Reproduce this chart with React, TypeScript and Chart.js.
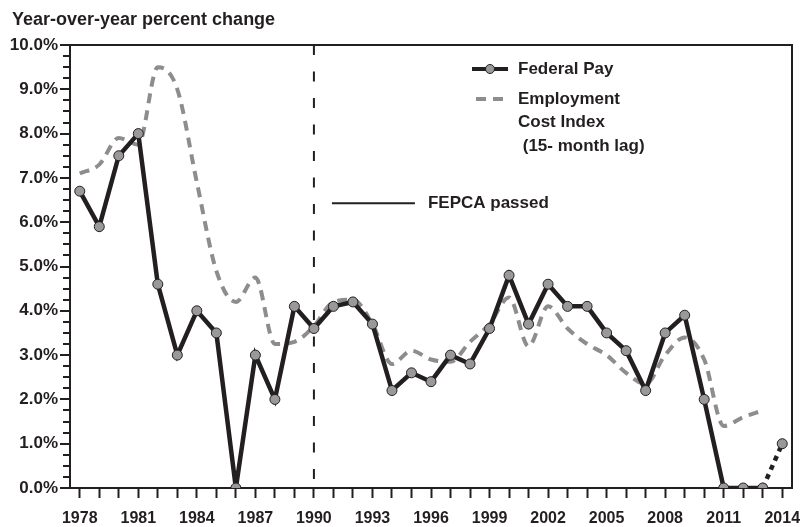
import React, { useEffect, useRef } from 'react';
import { Chart, registerables } from 'chart.js';

Chart.register(...registerables);

const years = [
  '1978', '1979', '1980', '1981', '1982', '1983', '1984', '1985', '1986', '1987',
  '1988', '1989', '1990', '1991', '1992', '1993', '1994', '1995', '1996', '1997',
  '1998', '1999', '2000', '2001', '2002', '2003', '2004', '2005', '2006', '2007',
  '2008', '2009', '2010', '2011', '2012', '2013', '2014',
];

const federalPay = [
  6.7, 5.9, 7.5, 8.0, 4.6, 3.0, 4.0, 3.5, 0.0, 3.0,
  2.0, 4.1, 3.6, 4.1, 4.2, 3.7, 2.2, 2.6, 2.4, 3.0,
  2.8, 3.6, 4.8, 3.7, 4.6, 4.1, 4.1, 3.5, 3.1, 2.2,
  3.5, 3.9, 2.0, 0.0, 0.0, 0.0, 1.0,
];

const employmentCostIndex = [
  7.1, 7.3, 7.9, 7.75, 9.5, 9.0, 6.9, 4.9, 4.2, 4.75,
  3.25, 3.3, 3.65, 4.2, 4.25, 3.7, 2.8, 3.1, 2.9, 2.85,
  3.3, 3.7, 4.3, 3.2, 4.1, 3.6, 3.25, 3.0, 2.6, 2.35,
  3.0, 3.4, 2.9, 1.4, 1.6, 1.75, null,
];

const yMin = 0;
const yMax = 10;
const yStep = 0.25;
const fepcaYear = '1990';
const projectedFromYear = '2013';

const titleText = 'Year-over-year percent change';
const payLabel = 'Federal Pay';
const eciLabelLines = ['Employment', 'Cost Index', ' (15- month lag)'];
const fepcaLabel = 'FEPCA passed';

const FONT = "'Liberation Sans', Arial, sans-serif";
const INK = '#231f20';
const PAY_FILL = '#999999';
const ECI_COLOR = '#8d8d8d';

const overlayPlugin = {
  id: 'overlay',
  beforeDatasetsDraw(chart: any) {
    const { ctx, chartArea, scales } = chart;
    const x = scales.x;
    const y = scales.y;
    const xi = x.getPixelForValue(years.indexOf(fepcaYear));
    ctx.save();
    ctx.strokeStyle = INK;
    ctx.lineWidth = 2;
    ctx.setLineDash([10, 16.5]);
    ctx.beginPath();
    ctx.moveTo(xi, chartArea.top);
    ctx.lineTo(xi, chartArea.bottom);
    ctx.stroke();
    ctx.setLineDash([]);
    // y-axis tick marks (major longer than minor)
    ctx.lineWidth = 2;
    ctx.beginPath();
    for (let v = yMin; v <= yMax + 1e-9; v += yStep) {
      const py = Math.round(y.getPixelForValue(v));
      const major = Math.abs(v - Math.round(v)) < 1e-9;
      ctx.moveTo(chartArea.left, py);
      ctx.lineTo(chartArea.left - (major ? 10 : 7), py);
    }
    ctx.stroke();
    ctx.restore();
  },
  afterDraw(chart: any) {
    const { ctx, chartArea, scales } = chart;
    const x = scales.x;
    const y = scales.y;
    ctx.save();
    // box top and right
    ctx.strokeStyle = INK;
    ctx.lineWidth = 2;
    ctx.beginPath();
    ctx.moveTo(chartArea.left, chartArea.top);
    ctx.lineTo(chartArea.right, chartArea.top);
    ctx.lineTo(chartArea.right, chartArea.bottom);
    ctx.stroke();

    // title
    ctx.fillStyle = INK;
    ctx.font = `bold 18px ${FONT}`;
    ctx.textAlign = 'left';
    ctx.textBaseline = 'middle';
    ctx.fillText(titleText, 12, 20);

    // FEPCA annotation
    const xf = x.getPixelForValue(years.indexOf(fepcaYear));
    const ya = y.getPixelForValue(6.43);
    ctx.lineWidth = 2;
    ctx.beginPath();
    ctx.moveTo(xf + 18, ya);
    ctx.lineTo(xf + 101, ya);
    ctx.stroke();
    ctx.font = `bold 17px ${FONT}`;
    ctx.fillText(fepcaLabel, xf + 114, ya);

    // legend
    const lx = 472;
    const ly = 69;
    ctx.strokeStyle = INK;
    ctx.lineWidth = 4;
    ctx.beginPath();
    ctx.moveTo(lx, ly);
    ctx.lineTo(lx + 36, ly);
    ctx.stroke();
    ctx.beginPath();
    ctx.arc(lx + 18, ly, 4.5, 0, Math.PI * 2);
    ctx.fillStyle = PAY_FILL;
    ctx.fill();
    ctx.lineWidth = 1;
    ctx.stroke();
    ctx.fillStyle = INK;
    ctx.fillText(payLabel, lx + 46, ly);

    ctx.strokeStyle = ECI_COLOR;
    ctx.lineWidth = 4;
    ctx.setLineDash([10, 7]);
    ctx.beginPath();
    ctx.moveTo(lx + 4, ly + 30);
    ctx.lineTo(lx + 34, ly + 30);
    ctx.stroke();
    ctx.setLineDash([]);
    eciLabelLines.forEach((line, i) => {
      ctx.fillText(line, lx + 46, ly + 30 + i * 23.5);
    });
    ctx.restore();
  },
};

export default function App() {
  const canvasRef = useRef<HTMLCanvasElement | null>(null);

  useEffect(() => {
    const canvas = canvasRef.current;
    if (!canvas) return;
    const projIdx = years.indexOf(projectedFromYear);
    const chart = new Chart(canvas, {
      type: 'line',
      data: {
        labels: years,
        datasets: [
          {
            label: payLabel,
            data: federalPay,
            borderColor: INK,
            borderWidth: 4.5,
            pointRadius: 5,
            pointBackgroundColor: PAY_FILL,
            pointBorderColor: INK,
            pointBorderWidth: 1,
            tension: 0,
            segment: {
              borderDash: (c: any) => (c.p0DataIndex >= projIdx ? [5, 5] : undefined),
            },
          },
          {
            label: 'Employment Cost Index (15- month lag)',
            data: employmentCostIndex,
            borderColor: ECI_COLOR,
            borderWidth: 4,
            borderDash: [10, 7],
            pointRadius: 0,
            cubicInterpolationMode: 'monotone',
            spanGaps: false,
          },
        ],
      },
      options: {
        responsive: false,
        animation: false,
        events: [],
        layout: { padding: { left: 0, top: 45, right: 8, bottom: 0 } },
        plugins: {
          legend: { display: false },
          tooltip: { enabled: false },
          title: { display: false },
        },
        scales: {
          x: {
            type: 'category',
            offset: true,
            afterFit: (s: any) => {
              s.height = 39;
              s.paddingLeft = 0;
              s.paddingRight = 0;
            },
            grid: {
              offset: false,
              drawOnChartArea: false,
              drawTicks: true,
              tickLength: 10,
              tickWidth: 2,
              tickColor: INK,
            },
            border: { display: true, color: INK, width: 2 },
            ticks: {
              autoSkip: false,
              maxRotation: 0,
              minRotation: 0,
              padding: 11,
              color: INK,
              font: { family: FONT, size: 16, weight: 'bold' },
              callback: (_v: any, i: number) => ((Number(years[i]) - 1978) % 3 === 0 ? years[i] : ''),
            },
          },
          y: {
            min: yMin,
            max: yMax,
            afterFit: (s: any) => {
              s.width = 70;
              s.paddingTop = 0;
              s.paddingBottom = 0;
            },
            grid: {
              drawOnChartArea: false,
              drawTicks: false,
            },
            border: { display: true, color: INK, width: 2 },
            ticks: {
              stepSize: yStep,
              maxTicksLimit: 100,
              autoSkip: false,
              padding: 12,
              color: INK,
              font: { family: FONT, size: 17, weight: 'bold' },
              callback: (v: any) => (Math.abs(v - Math.round(v)) < 1e-9 ? `${Number(v).toFixed(1)}%` : ''),
            },
          },
        },
      },
      plugins: [overlayPlugin],
    });
    return () => chart.destroy();
  }, []);

  return (
    <div style={{ position: 'absolute', left: 0, top: 0, width: 800, height: 527, background: '#fff' }}>
      <canvas ref={canvasRef} width={800} height={527} />
    </div>
  );
}
